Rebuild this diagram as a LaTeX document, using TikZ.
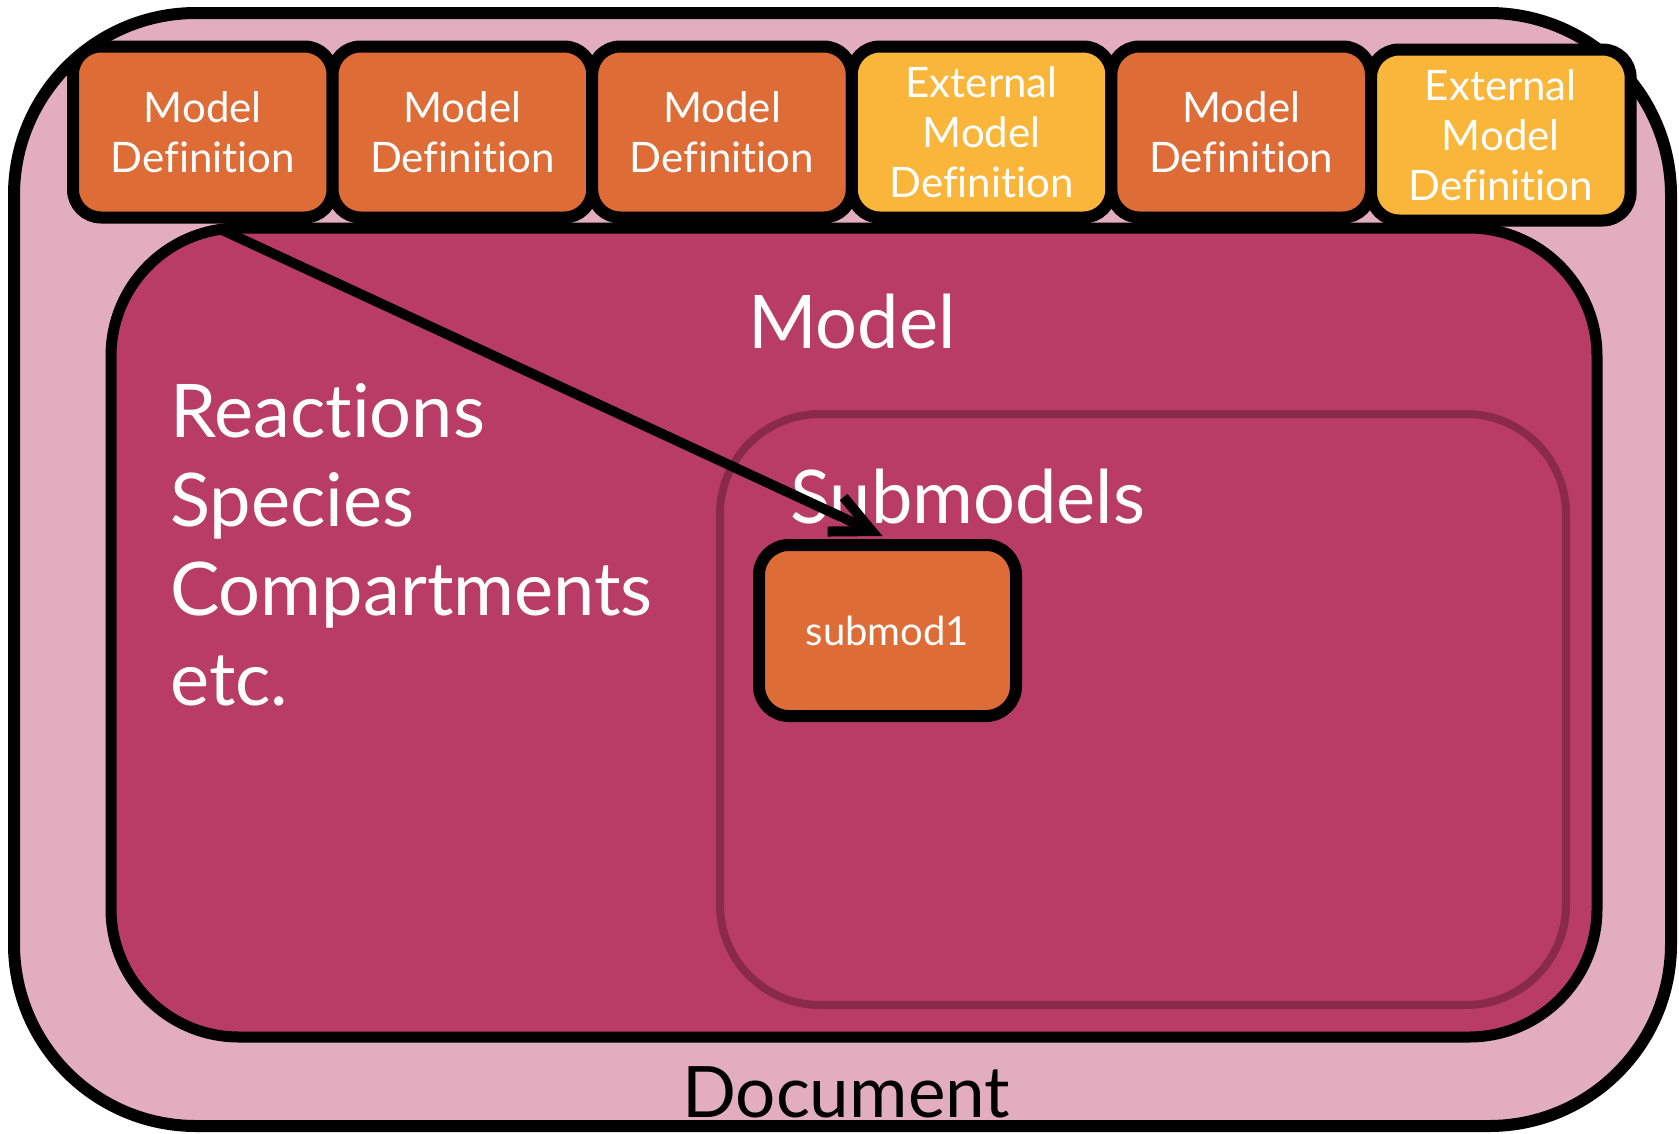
\documentclass[tikz,border=0pt]{standalone}
\usepackage{fontspec}
\setmainfont{Lato}[Ligatures=NoCommon]
\usetikzlibrary{arrows.meta}
\definecolor{docpink}{HTML}{E2AEBF}
\definecolor{modelmag}{HTML}{B93C67}
\definecolor{deforange}{HTML}{DE6C37}
\definecolor{extyellow}{HTML}{F9B63B}
\definecolor{subborder}{HTML}{8A2A4B}
\begin{document}
\begin{tikzpicture}[x=1pt,y=-1pt,
  docbox/.style={draw=black, fill=docpink, line width=12pt, rounded corners=182pt, minimum width=1657pt, minimum height=1113pt, inner sep=0pt},
  modelbox/.style={draw=black, fill=modelmag, line width=11pt, rounded corners=128pt, minimum width=1486pt, minimum height=809pt, inner sep=0pt},
  subsbox/.style={draw=subborder, line width=8pt, rounded corners=100pt, minimum width=846pt, minimum height=591pt, inner sep=0pt},
  defbox/.style={draw=black, fill=deforange, line width=12pt, rounded corners=28pt, minimum width=259.6pt, minimum height=171pt, inner sep=0pt, text=white, align=center, font=\fontsize{42}{50}\selectfont},
  extbox/.style={defbox, fill=extyellow},
  submodbox/.style={draw=black, fill=deforange, line width=12pt, rounded corners=30pt, minimum width=257pt, minimum height=171pt, inner sep=0pt, text=white, font=\fontsize{40}{46}\selectfont},
  bigtext/.style={text=white, inner sep=0pt, font=\fontsize{74}{89}\selectfont},
  conn/.style={draw=black, line width=10pt, -{Straight Barb[length=40pt,width=38pt]}}
]
\useasboundingbox (0,0) rectangle (1679,1133);
\node[docbox] (doc) at (842.5,569.5) {};
\node[inner sep=0pt, anchor=base, font=\fontsize{71}{80}\selectfont] (doclabel) at (846,1117) {Document};
\node[modelbox] (model) at (854,632.5) {};
\node[subsbox] (subs) at (1143,709.5) {};
\node[bigtext, anchor=base] (modellabel) at (852,348) {Model};
\node[bigtext, anchor=base west] (reac) at (170,437) {Reactions};
\node[bigtext, anchor=base west] (spec) at (170,526) {Species};
\node[bigtext, anchor=base west] (comp) at (170,615) {Compartments};
\node[bigtext, anchor=base west] (etc) at (170,705) {etc.};
\node[bigtext, anchor=base west] (subslabel) at (790,523) {Submodels};
\node[defbox] (b1) at (202.8,132) {Model\\Definition};
\node[defbox] (b2) at (462.4,132) {Model\\Definition};
\node[defbox] (b3) at (722.0,132) {Model\\Definition};
\node[extbox] (b4) at (981.6,132) {External\\Model\\Definition};
\node[defbox] (b5) at (1241.2,132) {Model\\Definition};
\node[extbox] (b6) at (1500.8,135) {External\\Model\\Definition};
\node[submodbox] (sub) at (887.5,630.5) {submod1};
\coordinate (astart) at (220,229);
\draw[conn] (astart) -- ([xshift=-5pt,yshift=3pt]sub.north);
\end{tikzpicture}
\end{document}
